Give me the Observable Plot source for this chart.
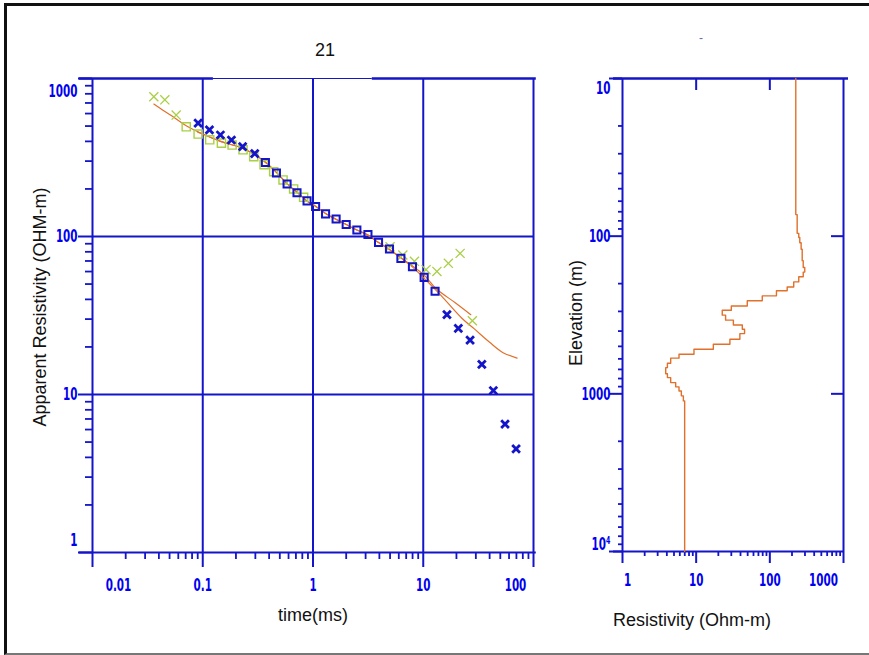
<!DOCTYPE html>
<html><head><meta charset="utf-8">
<script src="https://cdn.jsdelivr.net/npm/d3@7"></script>
<script src="https://cdn.jsdelivr.net/npm/@observablehq/plot@0.6"></script>
<style>
body{margin:0;background:#fff;}
#wrap{position:relative;width:869px;height:655px;overflow:hidden;background:#fff;font-family:"Liberation Sans",Arial,sans-serif;}
#wrap svg{position:absolute;left:0;top:0;}
.border{position:absolute;left:4px;top:3px;width:880px;height:647px;border-left:3px solid #111;border-top:3px solid #111;border-bottom:2px solid #777;}
.lbl{position:absolute;font-size:18px;color:#111;white-space:nowrap;transform:translate(-50%,-50%);}
.rot{transform:translate(-50%,-50%) rotate(-90deg);}
</style></head><body>
<div id="wrap"><div class="border"></div></div>
<script>
// ---------- data: left panel (apparent resistivity vs time) ----------
const blueSqTime = [0.370, 0.466, 0.582, 0.716, 0.883, 1.056, 1.30, 1.62, 2.00, 2.50, 3.15, 3.93, 4.94, 6.27, 7.98, 10.19, 12.8];
const blueSqRho  = [294, 252, 215, 189, 168, 155, 139, 129, 119, 110, 103, 91.8, 83.4, 72.7, 64.4, 55.1, 45.0];
const blueXTime  = [0.0908, 0.115, 0.1446, 0.182, 0.230, 0.296, 16.4, 20.8, 26.6, 34.0, 43.2, 55.2, 69.5];
const blueXRho   = [522, 473, 439, 408, 371, 335, 32.0, 26.2, 22.1, 15.5, 10.6, 6.5, 4.53];
const greenSqTime = [0.0708, 0.0908, 0.1157, 0.1477, 0.1846, 0.232, 0.290, 0.36, 0.44, 0.535, 0.667, 0.822];
const greenSqRho  = [495, 445, 409, 390, 379, 354, 320, 285, 257, 228, 200, 177];
const greenXTime = [0.036, 0.0453, 0.0574, 5.0, 6.53, 8.32, 10.6, 13.3, 16.9, 21.6, 27.9];
const greenXRho  = [766, 733, 587, 86, 76.4, 69.6, 61.7, 60.1, 67.6, 78.2, 29.3];
const fitGreenTime = [0.036, 0.045, 0.055, 0.0708, 0.1, 0.145, 0.22, 0.29, 0.37, 0.47, 0.58, 0.72, 0.88, 1.06, 1.3, 1.6, 2.0, 2.5, 3.15, 3.9, 4.9, 6.3, 8.0, 10.2, 13.2, 19.5, 27];
const fitGreenRho  = [689, 620, 566, 502, 445, 400, 366, 333, 295, 253, 216, 190, 168, 155, 140, 129, 119, 110, 102, 92, 83, 73, 65, 57, 46.5, 38.1, 32];
const fitBlueTime = [0.09, 0.1, 0.145, 0.22, 0.29, 0.37, 0.47, 0.58, 0.72, 0.88, 1.06, 1.3, 1.6, 2.0, 2.5, 3.15, 3.9, 4.9, 6.3, 8.0, 10.2, 14.6, 22.4, 28.9, 40, 53, 71];
const fitBlueRho  = [458, 445, 400, 366, 333, 295, 253, 216, 190, 168, 155, 140, 129, 119, 110, 102, 92, 83, 73, 64, 54.3, 42.1, 30.4, 26.1, 21.4, 18.4, 17];
const timeTicks = [0.01, 0.1, 1, 10, 100];
const timeTickLabels = ["0.01", "0.1", "1", "10", "100"];
const rhoTicks = [1, 10, 100, 1000];
const rhoTickLabels = ["1", "10", "100", "1000"];

// ---------- data: right panel (layered model) ----------
const layerTop = [10, 73, 96, 102, 110, 121, 143, 158, 169, 181, 195, 210, 222, 239, 257, 277, 295, 317, 341, 366, 389, 415, 451, 485, 521, 561, 594, 640, 682, 745, 789, 849, 903, 959, 1030, 1109];
const layerRes = [225, 235, 247, 255, 266, 275, 284, 298, 284, 247, 211, 172, 123, 78.9, 49.4, 30.0, 22.6, 25.1, 32, 42.3, 45.4, 39.2, 28.7, 17.1, 9.34, 5.85, 4.51, 4.07, 3.86, 4.07, 4.51, 5.27, 5.85, 6.29, 6.70, 6.98];
const modelBottom = 10000;
const resTicks = [1, 10, 100, 1000];
const resTickLabels = ["1", "10", "100", "1000"];
const elevTicks = [10, 100, 1000, 10000];
const elevTickLabels = ["10", "100", "1000", "10\u2074"];

// ---------- styling ----------
const BLUE = "#1414c8", LBLUE = "#0000f0", GREEN = "#a9cf45", ORANGE = "#e0702a";
const TF = {className: "tk", fontFamily: "'Liberation Sans Narrow','DejaVu Sans Condensed',sans-serif", fontWeight: "bold", fontSize: 18, fill: LBLUE};
const minors = (decades) => decades.flatMap(d => [2,3,4,5,6,7,8,9].map(k => k * d));
const pts = (xs, ys) => xs.map((x, i) => ({x, y: ys[i]}));
const blank = () => "";

const wrap = document.getElementById("wrap");

// ---------- left panel ----------
const xExt = [0.0076, 106];     // axis line extents (data units)
const titleGap = [0.125, 3.45];
const left = Plot.plot({
  width: 869, height: 655,
  marginLeft: 92, marginRight: 336, marginTop: 78, marginBottom: 103,
  x: {type: "log", domain: [0.01, 100], axis: null},
  y: {type: "log", domain: [1, 1000], axis: null},
  style: {background: "none", overflow: "visible"},
  marks: [
    Plot.ruleX([0.1, 1, 10], {stroke: BLUE, strokeWidth: 2}),
    Plot.ruleY([10, 100], {stroke: BLUE, strokeWidth: 2}),
    Plot.ruleX([0.01, 100], {stroke: BLUE, strokeWidth: 2}),
    Plot.ruleY([1], {x1: xExt[0], x2: xExt[1], stroke: BLUE, strokeWidth: 2}),
    Plot.ruleY([1000], {x1: xExt[0], x2: titleGap[0], stroke: BLUE, strokeWidth: 2.5}),
    Plot.ruleY([1000], {x1: titleGap[0], x2: titleGap[1], stroke: BLUE, strokeWidth: 1}),
    Plot.ruleY([1000], {x1: titleGap[1], x2: xExt[1], stroke: BLUE, strokeWidth: 2.5}),
    Plot.axisX({ticks: minors([0.01, 0.1, 1, 10]), anchor: "bottom", tickSize: 7, tickFormat: blank, stroke: BLUE, strokeWidth: 1.8, label: null}),
    Plot.axisX({ticks: timeTicks, anchor: "bottom", tickSize: 15, tickFormat: blank, stroke: BLUE, strokeWidth: 2, label: null}),
    Plot.axisY({ticks: minors([1, 10, 100]), anchor: "left", tickSize: 7, tickFormat: blank, stroke: BLUE, strokeWidth: 1.8, label: null}),
    Plot.axisY({ticks: rhoTicks, anchor: "left", tickSize: 14, tickFormat: blank, stroke: BLUE, strokeWidth: 2, label: null}),
    // tick labels
    Plot.text(timeTicks.slice(1, 4), {x: d => d, y: 1, dy: 33, text: (d, i) => timeTickLabels[i + 1], ...TF}),
    Plot.text([timeTicks[0]], {x: d => d, y: 1, dy: 33, dx: 26, text: () => timeTickLabels[0], ...TF}),
    Plot.text([timeTicks[4]], {x: d => d, y: 1, dy: 33, dx: -18, text: () => timeTickLabels[4], ...TF}),
    Plot.text(rhoTicks.slice(1, 3), {x: 0.01, y: d => d, dx: -15, textAnchor: "end", text: (d, i) => rhoTickLabels[i + 1], ...TF}),
    Plot.text([rhoTicks[3]], {x: 0.01, y: d => d, dx: -15, dy: 13, textAnchor: "end", text: () => rhoTickLabels[3], ...TF}),
    Plot.text([rhoTicks[0]], {x: 0.01, y: d => d, dx: -15, dy: -12, textAnchor: "end", text: () => rhoTickLabels[0], ...TF}),
    // model curves
    Plot.line(pts(fitGreenTime, fitGreenRho), {x: "x", y: "y", stroke: ORANGE, strokeWidth: 1.2, curve: "catmull-rom"}),
    Plot.line(pts(fitBlueTime, fitBlueRho), {x: "x", y: "y", stroke: ORANGE, strokeWidth: 1.2, curve: "catmull-rom"}),
    // data
    Plot.dot(pts(greenSqTime, greenSqRho), {x: "x", y: "y", symbol: "square", r: 4.6, stroke: GREEN, strokeWidth: 1.4, fill: "none"}),
    Plot.dot(pts(greenXTime, greenXRho), {x: "x", y: "y", symbol: "times", r: 4.2, stroke: GREEN, strokeWidth: 1.3}),
    Plot.dot(pts(blueSqTime, blueSqRho), {x: "x", y: "y", symbol: "square", r: 4, stroke: BLUE, strokeWidth: 2, fill: "none"}),
    Plot.dot(pts(blueXTime, blueXRho), {x: "x", y: "y", symbol: "times", r: 3.6, stroke: BLUE, strokeWidth: 2.8})
  ]
});
wrap.appendChild(left);

// ---------- right panel ----------
const profile = layerTop.flatMap((top, i) => [
  {x: layerRes[i], y: top},
  {x: layerRes[i], y: i + 1 < layerTop.length ? layerTop[i + 1] : modelBottom}
]);
const rExt = [0.755, 1169];
const right = Plot.plot({
  width: 869, height: 655,
  marginLeft: 622, marginRight: 26, marginTop: 78, marginBottom: 104,
  x: {type: "log", domain: [1, 1000], axis: null},
  y: {type: "log", domain: [10, 10000], reverse: true, axis: null},
  style: {background: "none", overflow: "visible"},
  marks: [
    Plot.ruleY([10], {x1: rExt[0], x2: rExt[1], stroke: BLUE, strokeWidth: 2.5}),
    Plot.ruleY([10000], {x1: rExt[0], x2: 1030, stroke: BLUE, strokeWidth: 2}),
    Plot.ruleX([1, 1000], {stroke: BLUE, strokeWidth: 2}),
    Plot.axisX({ticks: minors([1, 10, 100]), anchor: "bottom", tickSize: 5, tickFormat: blank, stroke: BLUE, strokeWidth: 1.8, label: null}),
    Plot.axisX({ticks: resTicks, anchor: "bottom", tickSize: 12, tickFormat: blank, stroke: BLUE, strokeWidth: 2, label: null}),
    Plot.axisX({ticks: [10, 100], anchor: "top", tickSize: -11, tickFormat: blank, stroke: BLUE, strokeWidth: 2, label: null}),
    Plot.axisY({ticks: minors([10, 100, 1000]), anchor: "left", tickSize: 4, tickFormat: blank, stroke: BLUE, strokeWidth: 1.8, label: null}),
    Plot.axisY({ticks: elevTicks, anchor: "left", tickSize: 13, tickFormat: blank, stroke: BLUE, strokeWidth: 2, label: null}),
    Plot.axisY({ticks: [100, 1000], anchor: "right", tickSize: -13, tickFormat: blank, stroke: BLUE, strokeWidth: 2, label: null}),
    // tick labels
    Plot.text(resTicks.slice(1, 3), {x: d => d, y: 10000, dy: 29, text: (d, i) => resTickLabels[i + 1], ...TF}),
    Plot.text([resTicks[0]], {x: d => d, y: 10000, dy: 29, dx: 5, text: () => resTickLabels[0], ...TF}),
    Plot.text([resTicks[3]], {x: d => d, y: 10000, dy: 29, dx: -20, text: () => resTickLabels[3], ...TF}),
    Plot.text(elevTicks.slice(1, 3), {x: 1, y: d => d, dx: -12, textAnchor: "end", text: (d, i) => elevTickLabels[i + 1], ...TF}),
    Plot.text([elevTicks[0]], {x: 1, y: d => d, dx: -12, dy: 10, textAnchor: "end", text: () => elevTickLabels[0], ...TF}),
    Plot.text([elevTicks[3]], {x: 1, y: d => d, dx: -12, dy: -7, textAnchor: "end", text: () => elevTickLabels[3], ...TF}),
    // model
    Plot.line(profile, {x: "x", y: "y", stroke: ORANGE, strokeWidth: 1.4})
  ]
});
wrap.appendChild(right);

// condense the bold tick labels (narrow typeface look)
d3.select(wrap).selectAll("g.tk text").each(function () {
  const w = this.getComputedTextLength();
  this.setAttribute("textLength", (w * 0.64).toFixed(1));
  this.setAttribute("lengthAdjust", "spacingAndGlyphs");
});

// ---------- titles ----------
const labels = [
  {t: "21", x: 325, y: 50, cls: ""},
  {t: "time(ms)", x: 313, y: 615, cls: ""},
  {t: "Resistivity (Ohm-m)", x: 692, y: 620, cls: ""},
  {t: "Apparent Resistivity (OHM-m)", x: 40, y: 307, cls: "rot"},
  {t: "Elevation (m)", x: 576, y: 313, cls: "rot"}
];
for (const l of labels) {
  const d = document.createElement("div");
  d.className = "lbl " + l.cls;
  d.textContent = l.t;
  d.style.left = l.x + "px"; d.style.top = l.y + "px";
  wrap.appendChild(d);
}
const dash = document.createElement("div");
dash.className = "lbl";
dash.textContent = "-";
dash.style.cssText = "left:701px;top:38px;font-size:12px;color:#6070a0;";
wrap.appendChild(dash);
</script>
</body></html>
